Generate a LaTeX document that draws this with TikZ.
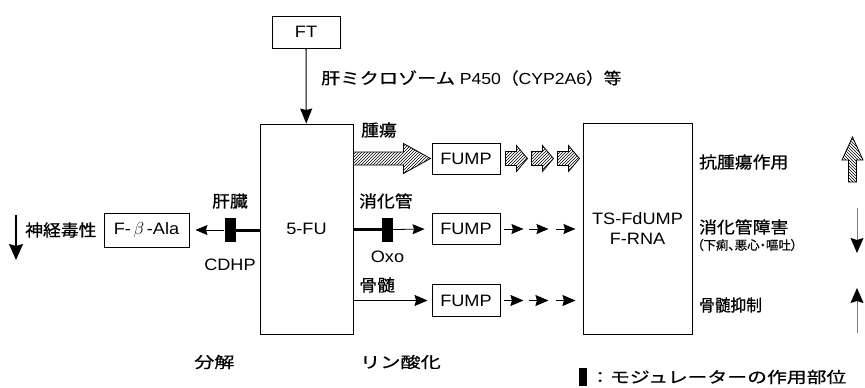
\documentclass[tikz,border=0pt]{standalone}
\usepackage{fontspec}
\setmainfont{Liberation Sans}[FakeStretch=1.1]
\newfontfamily\jp{Noto Sans CJK JP}[FakeBold=0.7]
\newcommand{\jpw}[1]{\jp\addfontfeature{FakeStretch=#1}}
\usepackage{tikz}
\usetikzlibrary{arrows.meta, positioning, patterns}

\tikzset{
  pics/hatcharrow/.style n args={4}{code={
      \draw[line width=0.8pt, hatch]
        (0,-#2/2) -- (#1-#4,-#2/2) -- (#1-#4,-#3/2) -- (#1,0)
        -- (#1-#4,#3/2) -- (#1-#4,#2/2) -- (0,#2/2) -- cycle;
  }}
}

\begin{document}
\begin{tikzpicture}[x=1pt, y=-1pt,
    box/.style={draw, line width=0.9pt, inner sep=0pt},
    lbl/.style={inner sep=1pt},
    jlbl/.style={inner sep=1pt, font=\fontsize{16.5}{19}\jpw{1.08}},
    mod/.style={fill=black, inner sep=0pt, minimum width=11pt, minimum height=24pt},
    arr/.style={line width=1.1pt, -{Stealth[length=13pt, width=11pt, inset=1.5pt]}},
    thinarr/.style={line width=0.8pt, -{Stealth[length=12pt, width=10pt, inset=1.5pt]}},
    modline/.style={line width=3pt},
    hatch/.style={pattern=north east lines},
    font=\fontsize{16.5}{20}\selectfont]
\useasboundingbox (0,0) rectangle (865,388);

% boxes
\node[box, minimum width=68pt, minimum height=32pt] (ft) at (306,32) {FT};
\node[box, minimum width=93pt, minimum height=210pt] (fu) at (306.5,229) {5-FU};
\node[box, minimum width=109pt, minimum height=211pt, align=center] (ts) at (637.5,228.5) {TS-FdUMP\\F-RNA};
\node[box, minimum width=68pt, minimum height=31pt] (fump1) at (466,158.5) {FUMP};
\node[box, minimum width=68pt, minimum height=31pt] (fump2) at (466,229) {FUMP};
\node[box, minimum width=68pt, minimum height=32pt] (fump3) at (466,300.5) {FUMP};
\node[box, minimum width=85pt, minimum height=34pt] (ala) at (146.5,230) {F-\,$\beta$\,-Ala};
\node[mod] (modl) at (230,230) {};
\node[mod] (modc) at (387.5,229.5) {};

% labels
\node[lbl, anchor=west, font=\fontsize{16}{18}\selectfont] (cyp) at (320,78)
    {{\jpw{1.2}肝ミクロゾーム} P450{\jpw{1.1}（}CYP2A6{\jpw{1.1}）等}};
\node[jlbl, anchor=west] (tumor) at (360,130) {腫瘍};
\node[jlbl, anchor=west] (gi) at (358,201) {消化管};
\node[jlbl, anchor=west] (bone) at (358,285) {骨髄};
\node[lbl, below=8pt of modc] (oxo) {Oxo};
\node[jlbl, above=8pt of modl] (liver) {肝臓};
\node[lbl, below=16pt of modl] (cdhp) {CDHP};
\node[jlbl, anchor=west] (neuro) at (24,230) {神経毒性};
\node[jlbl, anchor=west] (anti) at (698,162) {抗腫瘍作用};
\node[jlbl, anchor=west] (gitox) at (698,227) {消化管障害};
\node[lbl, anchor=west, font=\fontsize{12.5}{14}\jp\addfontfeature{RawFeature=+palt}] (gisub) at (696,245)
    {（下痢、悪心・嘔吐）};
\node[jlbl, anchor=west, font=\fontsize{16.5}{19}\jpw{0.95}] (bmsup) at (698,305) {骨髄抑制};
\node[jlbl, anchor=west, font=\fontsize{15.5}{18}\jpw{1.3}] (decomp) at (193,362) {分解};
\node[jlbl, anchor=west, font=\fontsize{15.5}{18}\jpw{1.3}] (phos) at (359,362) {リン酸化};
\node[fill=black, inner sep=0pt, minimum width=8pt, minimum height=18pt] (legbox) at (583,377) {};
\node[lbl, anchor=west, font=\fontsize{15.5}{18}\jpw{1.28}] (legend) at (589,377) {：モジュレーターの作用部位};

% connectors
\draw[arr, -{Stealth[length=15pt, width=12pt, inset=1.5pt]}] (ft) -- (fu);

\pic at (fu.east |- fump1.west) {hatcharrow={77}{13}{30}{27}};
\foreach \s in {5,31,57}
    \pic at ([xshift=\s]fump1.east) {hatcharrow={22}{14}{26}{11}};

\draw[modline] (fu.east |- modc) -- (modc.west);
\draw[thinarr, shorten >=7pt] (modc.east) -- (fump2.west);
\foreach \s in {4,29,56}
    \draw[thinarr] ([xshift=\s]fump2.east) -- ++(19,0);

\draw[arr, shorten >=4pt] (fu.east |- fump3.west) -- (fump3.west);
\foreach \s in {4,29,56}
    \draw[arr] ([xshift=\s]fump3.east) -- ++(19,0);

\draw[modline] (fu.west |- modl) -- (modl.east);
\draw[thinarr, shorten >=6pt] (modl.west) -- (ala.east);

% effect arrows
\coordinate (ntA) at (16,215);
\coordinate (ntB) at (16,260);
\draw[line width=1.2pt, -{Stealth[length=16pt, width=14pt, inset=2pt]}] (ntA) -- (ntB);

\pic[hatch/.style={pattern=north west lines}, rotate=90] at (852.5,182) {hatcharrow={45}{8}{21}{23}};

\coordinate (giA) at (857,208);
\coordinate (giB) at (857,253);
\draw[draw=gray, line width=1pt, -{Stealth[length=15pt, width=13pt, inset=2pt, black]}] (giA) -- (giB);

\coordinate (bmA) at (857,333);
\coordinate (bmB) at (857,288);
\draw[draw=gray, line width=1pt, -{Stealth[length=15pt, width=13pt, inset=2pt, black]}] (bmA) -- (bmB);
\end{tikzpicture}
\end{document}
